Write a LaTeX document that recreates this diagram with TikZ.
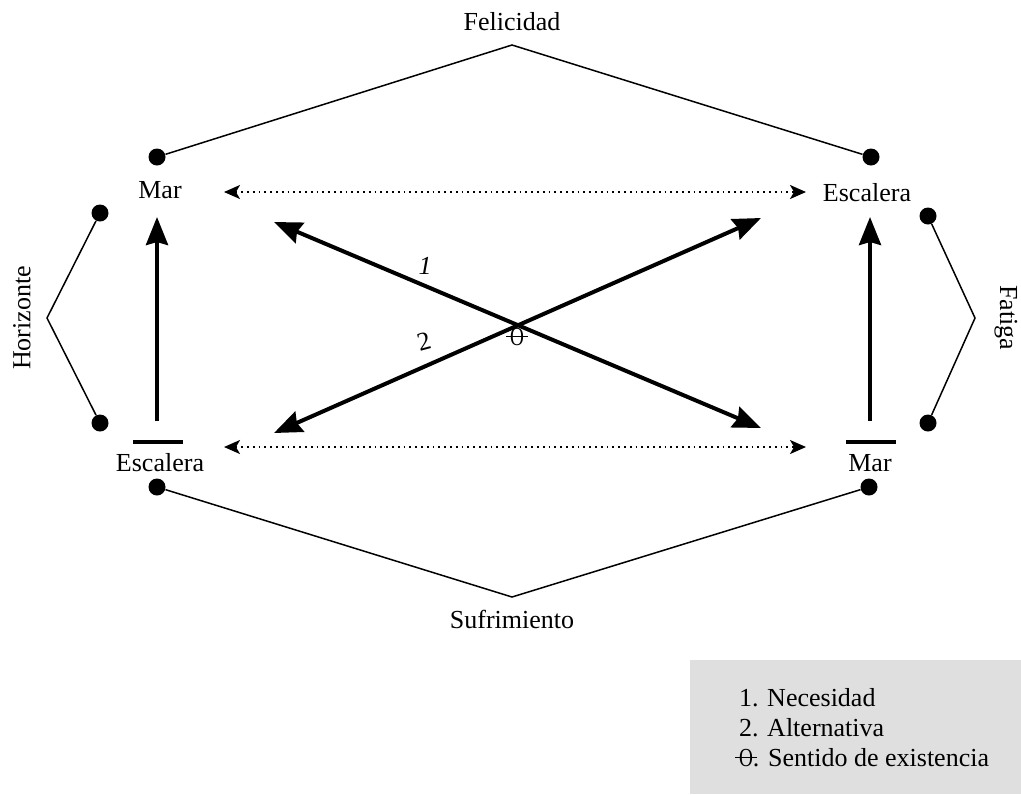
\documentclass[tikz,border=0pt]{standalone}
\usepackage{fontspec}
\setmainfont{Liberation Serif}
\usetikzlibrary{arrows.meta}

% theta-like sign with a long bar through it
\newcommand{\sentido}{\makebox[0pt][l]{\hspace{-0.14em}\rule[0.31em]{0.82em}{0.06em}}\scalebox{0.74}[1]{O}}

\begin{document}
\begin{tikzpicture}[x=0.5pt,y=0.5pt,yscale=-1,xscale=1,
  every node/.style={font=\fontsize{13}{15}\selectfont},
  dot/.style={circle,fill=black,inner sep=0pt,minimum size=8.5pt},
  thinline/.style={line width=0.75pt},
  bigarrow/.style={line width=2pt,-{Stealth[length=14pt,width=11pt,inset=1.5pt]}},
  duoarrow/.style={line width=2pt,{Stealth[length=14pt,width=11pt,inset=1.5pt]}-{Stealth[length=14pt,width=11pt,inset=1.5pt]}},
  dotarrow/.style={line width=0.9pt,dotted,{Stealth[length=8pt,width=7pt,inset=2pt]}-{Stealth[length=8pt,width=7pt,inset=2pt]}},
  barline/.style={line width=2pt}]
\useasboundingbox (0,0) rectangle (1021,794);

% Text Nodes
\node (feli) at (512,22) {Felicidad};
\node (sufr) at (512,619) {Sufrimiento};
\node[rotate=90] (hori) at (22,318) {Horizonte};
\node[rotate=-90] (fati) at (1006,318) {Fatiga};
\node (marTL) at (160,190) {Mar};
\node (escTR) at (867,193) {Escalera};
\node (escBL) at (160,463) {Escalera};
\node (marBR) at (870,463) {Mar};

% Dots
\node[dot] (dTL) at (157,157) {};
\node[dot] (dTR) at (871,157) {};
\node[dot] (dLT) at (100,213) {};
\node[dot] (dLB) at (100,423) {};
\node[dot] (dRT) at (928,216) {};
\node[dot] (dRB) at (928,423) {};
\node[dot] (dBL) at (157,487) {};
\node[dot] (dBR) at (869,487) {};

% Apexes
\coordinate (apT) at (512,45);
\coordinate (apB) at (512,597);
\coordinate (apL) at (47,318);
\coordinate (apR) at (975,318);

% Brackets
\draw[thinline] (dTL) -- (apT) -- (dTR);
\draw[thinline] (dBL) -- (apB) -- (dBR);
\draw[thinline] (dLT) -- (apL) -- (dLB);
\draw[thinline] (dRT) -- (apR) -- (dRB);

% Bars under the arrows
\coordinate (barL1) at (133,442);
\coordinate (barL2) at (183,442);
\coordinate (barR1) at (846,442);
\coordinate (barR2) at (896,442);
\draw[barline] (barL1) -- (barL2);
\draw[barline] (barR1) -- (barR2);

% Vertical arrows
\coordinate (vL1) at (157,421);
\coordinate (vL2) at (157,217);
\coordinate (vR1) at (870,421);
\coordinate (vR2) at (870,217);
\draw[bigarrow] (vL1) -- (vL2);
\draw[bigarrow] (vR1) -- (vR2);

% Dotted arrows
\coordinate (hT1) at (224,192);
\coordinate (hT2) at (806,192);
\coordinate (hB1) at (224,447);
\coordinate (hB2) at (806,447);
\draw[dotarrow] (hT1) -- (hT2);
\draw[dotarrow] (hB1) -- (hB2);

% Crossing arrows
\coordinate (c1a) at (274,222);
\coordinate (c1b) at (761,428);
\coordinate (c2a) at (274,433);
\coordinate (c2b) at (761,218);
\draw[duoarrow] (c1a) -- (c1b);
\draw[duoarrow] (c2a) -- (c2b);

% Labels
\node (one) at (425,266) {\textit{1}};
\node[rotate=15] (two) at (424,341) {2};
\node (theta) at (517,337) {\sentido};

% Legend
\fill[gray!25] (690,660) rectangle (1021,794);
\node[anchor=north west,align=left,font=\fontsize{13}{15}\selectfont] (leg) at (732,681)
  {1. Necesidad\\2. Alternativa\\\sentido. Sentido de existencia};

\end{tikzpicture}
\end{document}
